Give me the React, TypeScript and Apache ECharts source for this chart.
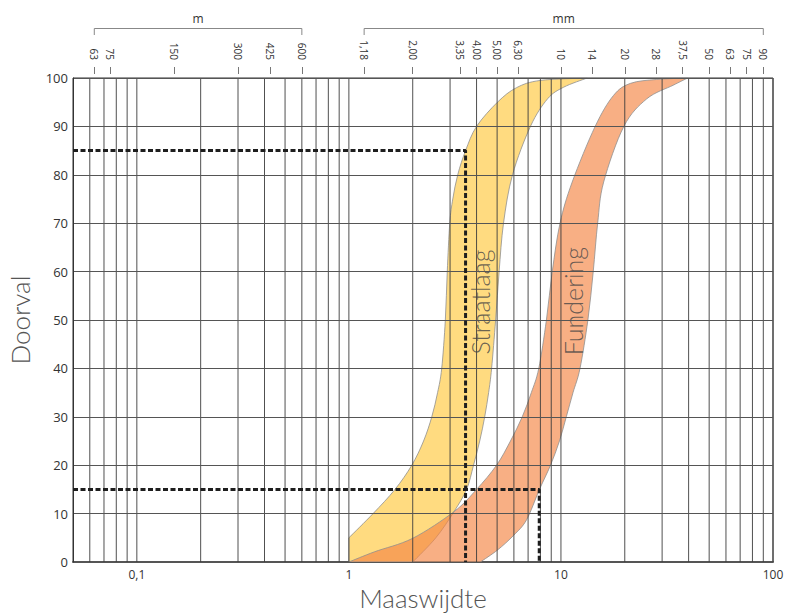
import React, { useEffect, useRef } from 'react';
import * as echarts from 'echarts';

// ---- data ----
const sieveValues = [0.063, 0.075, 0.15, 0.3, 0.425, 0.6, 1.18, 2, 3.35, 4, 5, 6.3, 10, 14, 20, 28, 37.5, 50, 63, 75, 90];
const sieveLabels = ['63', '75', '150', '300', '425', '600', '1,18', '2,00', '3,35', '4,00', '5,00', '6,30', '10', '14', '20', '28', '37,5', '50', '63', '75', '90'];
const unitGroups = [
  { name: 'm', from: 0, to: 5 },
  { name: 'mm', from: 6, to: 20 },
];
const bottomTickValues = [0.1, 1, 10, 100];
const bottomTickLabels = ['0,1', '1', '10', '100'];
const gridValues = [
  0.06, 0.07, 0.08, 0.09, 0.1, 0.2, 0.3, 0.4, 0.5, 0.6, 0.7, 0.8, 0.9,
  1, 2, 3, 4, 5, 6, 7, 8, 9, 10, 20, 30, 40, 50, 60, 70, 80, 90, 100,
];

// band edges, points [mm, % passing], each edge listed bottom -> top
const straatlaagLeft = [
  [1, 5], [1.3, 10], [1.65, 15], [1.98, 20], [2.25, 25], [2.46, 30], [2.62, 35], [2.74, 40],
  [2.85, 50], [2.91, 60], [2.99, 70], [3.09, 75], [3.26, 80], [3.55, 85], [4.0, 90],
  [5.02, 95], [6.17, 98], [8.0, 99.5], [13.3, 100],
];
const straatlaagRight = [
  [2.0, 0], [2.57, 5], [3.13, 10.4], [3.59, 15], [3.87, 20], [4.14, 25], [4.37, 30], [4.56, 35],
  [4.71, 40], [4.92, 50], [5.11, 60], [5.36, 70], [5.91, 80], [7.18, 90], [8.65, 95.7],
  [10.3, 98.1], [13.3, 100],
];
const straatlaagBase = [[1, 0]];

const funderingLeft = [
  [1, 0], [1.32, 2.1], [2.0, 4.9], [3.13, 10.4], [4.0, 15], [4.97, 20], [5.78, 25], [6.57, 30],
  [7.25, 35], [7.86, 40], [8.54, 50], [9.1, 60], [9.9, 70], [11.3, 78.5], [14.5, 90],
  [17.7, 96.4], [21.3, 98.9], [28.3, 99.7], [39.6, 100],
];
const funderingRight = [
  [4.17, 0], [5.03, 2.5], [5.98, 5.5], [6.88, 8.7], [7.92, 15], [8.93, 20], [9.84, 25], [10.6, 30],
  [11.4, 35], [12.3, 40], [13.4, 50], [14.2, 60], [14.9, 70], [15.9, 78.5], [19.8, 90],
  [25.4, 95.7], [33.8, 98.5], [39.6, 100],
];
const funderingBase: number[][] = [];

const bandNames = ['Straatlaag', 'Fundering'];
const bandLabelAnchors = [[4.17, 53.7], [11.36, 53.9]];

const dashed85 = [[0.05, 85], [3.55, 85], [3.55, 0]];
const dashed15 = [[0.05, 15], [7.9, 15], [7.9, 0]];

// ---- shape ----
function curveThrough(ctx: any, pts: number[][]) {
  for (let i = 0; i < pts.length - 1; i++) {
    const p0 = pts[i - 1] || pts[i];
    const p1 = pts[i];
    const p2 = pts[i + 1];
    const p3 = pts[i + 2] || pts[i + 1];
    const c1x = p1[0] + (p2[0] - p0[0]) / 6;
    const c1y = p1[1] + (p2[1] - p0[1]) / 6;
    const c2x = p2[0] - (p3[0] - p1[0]) / 6;
    const c2y = p2[1] - (p3[1] - p1[1]) / 6;
    ctx.bezierCurveTo(c1x, c1y, c2x, c2y, p2[0], p2[1]);
  }
}

const BandShape = (echarts.graphic as any).extendShape({
  type: 'gradeBand',
  shape: { left: [], right: [], base: [] },
  buildPath(ctx: any, shape: any) {
    const L = shape.left;
    const R = shape.right;
    if (!L || !L.length) return;
    ctx.moveTo(L[0][0], L[0][1]);
    curveThrough(ctx, L);
    curveThrough(ctx, R);
    (shape.base || []).forEach((p: number[]) => ctx.lineTo(p[0], p[1]));
    ctx.closePath();
  },
});
(echarts.graphic as any).registerShape('gradeBand', BandShape);

const bands = [
  { left: straatlaagLeft, right: straatlaagRight, base: straatlaagBase, fill: '#FFDB80' },
  { left: funderingLeft, right: funderingRight, base: funderingBase, fill: 'rgba(245,134,69,0.66)' },
];

function labelFor(values: number[], labels: string[], v: number) {
  const i = values.findIndex((s) => Math.abs(Math.log10(s) - Math.log10(v)) < 0.002);
  return i >= 0 ? labels[i] : '';
}

const TXT = '#333';
const TITLE_FONT = 'Lato';

export default function App() {
  const ref = useRef<HTMLDivElement>(null);

  useEffect(() => {
    if (!ref.current) return;
    const chart = echarts.init(ref.current, undefined, { renderer: 'svg' });

    const option: any = {
      animation: false,
      grid: {
        left: 73, right: 14, top: 78, bottom: 51,
        containLabel: false, outerBoundsMode: 'none',
        show: true, borderColor: '#333', borderWidth: 1, backgroundColor: 'transparent',
      },
      xAxis: [
        {
          type: 'log', logBase: 10, min: 0.05, max: 100, position: 'bottom',
          axisLine: { show: true, lineStyle: { color: '#555', width: 2 } },
          axisTick: { show: false },
          splitLine: { show: false },
          minorSplitLine: { show: false },
          axisLabel: {
            customValues: bottomTickValues,
            formatter: (v: number) => labelFor(bottomTickValues, bottomTickLabels, v),
            fontFamily: 'Open Sans', fontSize: 12, color: TXT, margin: 6,
          },
          name: 'Maaswijdte', nameLocation: 'middle', nameGap: 21,
          nameTextStyle: { fontFamily: TITLE_FONT, fontWeight: 300, fontSize: 26, color: '#555' },
        },
        {
          type: 'log', logBase: 10, min: 0.05, max: 100, position: 'top', offset: 4,
          axisLine: { show: false },
          axisTick: { show: true, customValues: sieveValues, length: 7, inside: false, lineStyle: { color: '#777', width: 1 } },
          splitLine: { show: false },
          axisLabel: {
            customValues: sieveValues,
            formatter: (v: number) => labelFor(sieveValues, sieveLabels, v),
            rotate: 90, margin: 14, fontFamily: 'Open Sans', fontSize: 10, color: TXT,
          },
        },
      ],
      yAxis: {
        type: 'value', min: 0, max: 100, interval: 10, z: 5,
        axisLine: { show: true, lineStyle: { color: '#333', width: 1 } },
        axisTick: { show: false },
        splitLine: { show: true, lineStyle: { color: '#555', width: 1 } },
        axisLabel: { fontFamily: 'Open Sans', fontSize: 13, color: TXT, margin: 5 },
        name: 'Doorval', nameLocation: 'middle', nameGap: 40,
        nameTextStyle: { fontFamily: TITLE_FONT, fontWeight: 300, fontSize: 26, color: '#555' },
      },
      series: [
        {
          type: 'custom', z: 1, silent: true,
          data: bands.map((_, i) => [1, i]),
          renderItem: (params: any, api: any) => {
            const b = bands[params.dataIndex];
            const conv = (pts: number[][]) => pts.map((p) => api.coord(p));
            return {
              type: 'gradeBand',
              shape: {
                left: conv(b.left),
                right: conv(b.right.slice().reverse()),
                base: conv(b.base),
              },
              style: { fill: b.fill, stroke: '#8f8f8f', lineWidth: 0.8 },
            };
          },
        },
        {
          type: 'custom', z: 3, silent: true,
          data: gridValues.map((v) => [v, 0]),
          renderItem: (params: any, api: any) => {
            const v = api.value(0);
            const p0 = api.coord([v, 0]);
            const p1 = api.coord([v, 100]);
            return {
              type: 'line',
              shape: { x1: p0[0], y1: p0[1], x2: p1[0], y2: p1[1] },
              style: { stroke: '#3c3c3c', lineWidth: 0.9 },
            };
          },
        },
        {
          type: 'scatter', z: 4, silent: true, symbolSize: 0,
          data: bandNames.map((n, i) => ({ name: n, value: bandLabelAnchors[i] })),
          label: {
            show: true, position: 'inside', formatter: '{b}', rotate: 90,
            fontFamily: TITLE_FONT, fontWeight: 300, fontSize: 25, color: '#444',
          },
        },
        {
          type: 'line', z: 6, silent: true, symbol: 'none', data: dashed85,
          lineStyle: { color: '#1e1e1e', width: 3, type: [5, 2.5] },
        },
        {
          type: 'line', z: 6, silent: true, symbol: 'none', data: dashed15,
          lineStyle: { color: '#1e1e1e', width: 3, type: [5, 2.5] },
        },
      ],
    };

    chart.setOption(option);

    const graphics: any[] = [];
    unitGroups.forEach((g) => {
      const x1 = chart.convertToPixel({ xAxisIndex: 1 } as any, sieveValues[g.from]) as any;
      const x2 = chart.convertToPixel({ xAxisIndex: 1 } as any, sieveValues[g.to]) as any;
      graphics.push({
        type: 'polyline', silent: true,
        shape: { points: [[x1, 35], [x1, 28.5], [x2, 28.5], [x2, 35]] },
        style: { stroke: '#888', lineWidth: 1, fill: null },
      });
      graphics.push({
        type: 'text', silent: true, x: (x1 + x2) / 2, y: 18,
        style: { text: g.name, fontFamily: 'Open Sans', fontSize: 12, fill: TXT, align: 'center', verticalAlign: 'middle' },
      });
    });
    chart.setOption({ graphic: graphics });

    return () => chart.dispose();
  }, []);

  return <div ref={ref} style={{ position: 'absolute', left: 0, top: 0, width: 787, height: 613 }} />;
}
